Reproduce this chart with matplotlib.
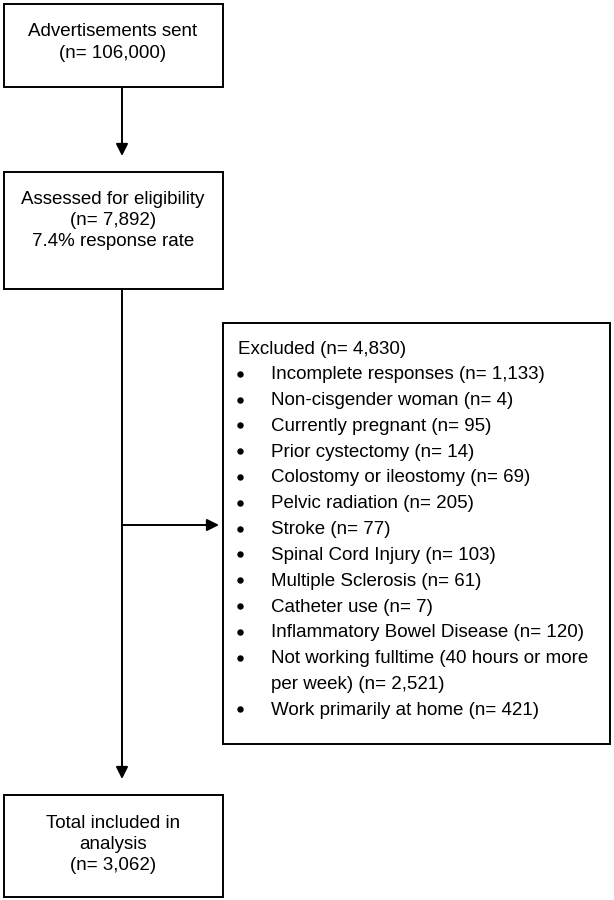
import matplotlib.pyplot as plt
from matplotlib.patches import Rectangle

plt.rcParams['font.family'] = ['Liberation Sans', 'DejaVu Sans']

# Flow chart content
top_box = ["Advertisements sent", "(n= 106,000)"]
assessed_box = ["Assessed for eligibility", "(n= 7,892)", "7.4% response rate"]
excluded_title = "Excluded (n= 4,830)"
excluded_items = [
    ["Incomplete responses (n= 1,133)"],
    ["Non-cisgender woman (n= 4)"],
    ["Currently pregnant (n= 95)"],
    ["Prior cystectomy (n= 14)"],
    ["Colostomy or ileostomy (n= 69)"],
    ["Pelvic radiation (n= 205)"],
    ["Stroke (n= 77)"],
    ["Spinal Cord Injury (n= 103)"],
    ["Multiple Sclerosis (n= 61)"],
    ["Catheter use (n= 7)"],
    ["Inflammatory Bowel Disease (n= 120)"],
    ["Not working fulltime (40 hours or more", "per week) (n= 2,521)"],
    ["Work primarily at home (n= 421)"],
]
included_box = ["Total included in", "analysis", "(n= 3,062)"]

fig = plt.figure(figsize=(6.14, 9), dpi=100)
ax = fig.add_axes([0, 0, 1, 1])
ax.set_xlim(0, 614)
ax.set_ylim(900, 0)
ax.axis('off')

FS = 13.5
LW = 1.4


def box(x0, y0, x1, y1):
    ax.add_patch(Rectangle((x0, y0), x1 - x0, y1 - y0, fill=False,
                           edgecolor='black', linewidth=LW))


def centered_lines(lines, cx, y0, step):
    for i, s in enumerate(lines):
        ax.text(cx, y0 + i * step, s, ha='center', va='center', fontsize=FS)


def arrow(x0, y0, x1, y1):
    ax.annotate('', xy=(x1, y1), xytext=(x0, y0),
                arrowprops=dict(arrowstyle='-|>', color='black', lw=LW,
                                mutation_scale=18, shrinkA=0, shrinkB=0))


# boxes on the left
box(4, 4, 223, 87)
centered_lines(top_box, 113, 31, 22)

box(4, 172, 223, 289)
centered_lines(assessed_box, 113, 199, 21.5)

box(4, 795, 223, 897)
centered_lines(included_box, 113, 823, 21.5)

# arrows
arrow(122, 87, 122, 156)
ax.plot([122, 122], [289, 700], color='black', lw=LW)
arrow(122, 700, 122, 779)
arrow(122, 525, 219, 525)

# exclusion box
box(223, 323, 610, 744)
ax.text(238, 349, excluded_title, ha='left', va='center', fontsize=FS)
step = 25.8
row = 1
for item in excluded_items:
    y = 349 + row * step
    ax.plot(240, y - 1, 'o', color='black', markersize=3.6)
    for j, s in enumerate(item):
        ax.text(271, y + j * step, s, ha='left', va='center', fontsize=FS)
    row += len(item)

fig.savefig('out.png', dpi=100)
